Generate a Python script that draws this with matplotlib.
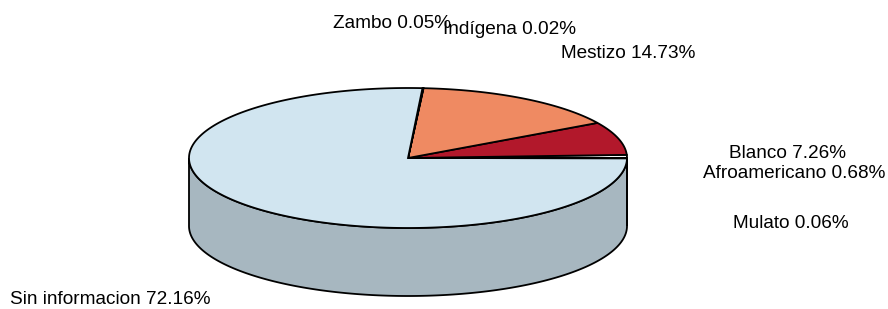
import numpy as np
import matplotlib
matplotlib.use("Agg")
import matplotlib.pyplot as plt
from matplotlib.patches import Polygon

plt.rcParams["font.family"] = ["Liberation Sans", "DejaVu Sans"]

# slices in drawing order (counter-clockwise from 3 o'clock)
categories = ["Afroamericano", "Blanco", "Mestizo", "Indígena", "Zambo",
              "Sin informacion", "Mulato"]
percents = [0.68, 7.26, 14.73, 0.02, 0.05, 72.16, 0.06]
colors = ["#F7F7F7", "#B2182B", "#EF8A62", "#FDDBC7", "#F7F7F7",
          "#D1E5F0", "#67A9CF"]

# layout (pixel space)
cx, cy = 408, 158
rx, ry = 219, 70
height = 68
shade = 0.8
label_pos = {
    "Afroamericano": (794, 174),
    "Blanco": (787, 153),
    "Mestizo": (628, 53),
    "Indígena": (509, 30),
    "Zambo": (392, 23),
    "Sin informacion": (110, 300),
    "Mulato": (791, 223),
}


def ell(t, dy=0):
    return np.column_stack([cx + rx * np.cos(t), cy - ry * np.sin(t) + dy])


fig = plt.figure(figsize=(8.88, 3.09), dpi=100)
ax = fig.add_axes([0, 0, 1, 1])
ax.set_xlim(0, 888)
ax.set_ylim(309, 0)
ax.axis("off")

vals = np.array(percents)
frac = vals / vals.sum()
edges = np.concatenate([[0], np.cumsum(frac)]) * 2 * np.pi

# side walls (front half only)
for i in range(len(vals)):
    a0, a1 = max(edges[i], np.pi), min(edges[i + 1], 2 * np.pi)
    if a1 <= a0:
        continue
    t = np.linspace(a0, a1, 200)
    top = ell(t)
    bot = ell(t[::-1], height)
    rgb = np.array(matplotlib.colors.to_rgb(colors[i])) * shade
    ax.add_patch(Polygon(np.vstack([top, bot]), closed=True, facecolor=rgb,
                         edgecolor="black", lw=1.3, zorder=2))

# top sectors
for i in range(len(vals)):
    t = np.linspace(edges[i], edges[i + 1], max(int(frac[i] * 600), 3))
    pts = np.vstack([[cx, cy], ell(t)])
    ax.add_patch(Polygon(pts, closed=True, facecolor=colors[i],
                         edgecolor="black", lw=1.3, zorder=3))

for name, p in zip(categories, percents):
    x, y = label_pos[name]
    ax.text(x, y, f"{name} {p:.2f}%", ha="center", va="center", fontsize=13.7,
            color="black", zorder=5)

fig.savefig("out.png", dpi=100)
